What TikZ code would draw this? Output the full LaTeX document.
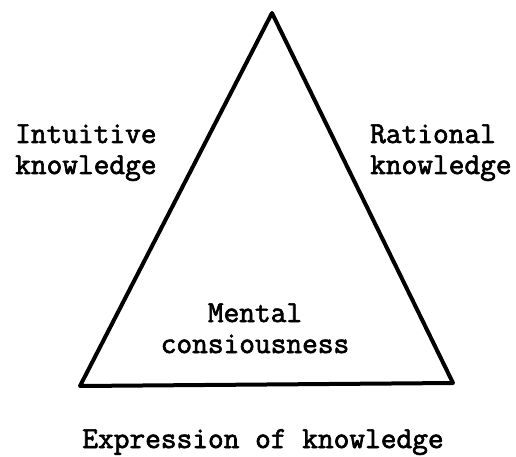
\documentclass[tikz,border=0pt]{standalone}
\usepackage{fontspec}
\setmonofont{Latin Modern Mono}[AutoFakeBold=2.2]
\begin{document}
\begin{tikzpicture}[x=1pt,y=-1pt,
  lbl/.style={inner sep=0pt,font=\ttfamily\bfseries\fontsize{30.5}{31}\selectfont},
  edge/.style={line width=4pt,line join=round,line cap=round}]
\useasboundingbox (0,0) rectangle (516,457);
\coordinate (A) at (272,13);
\coordinate (B) at (80,386);
\coordinate (C) at (453,383);
\draw[edge] (A) -- (B) -- (C) -- cycle;
\node[lbl,anchor=base west,align=left] (intu) at (15,174) {Intuitive\\knowledge};
\node[lbl,anchor=base west,align=left] (rat) at (370,174) {Rational\\knowledge};
\node[lbl,anchor=base,align=center] (ment) at (255,353) {Mental\\consiousness};
\node[lbl,anchor=base] (expr) at (263,448) {Expression of knowledge};
\end{tikzpicture}
\end{document}
